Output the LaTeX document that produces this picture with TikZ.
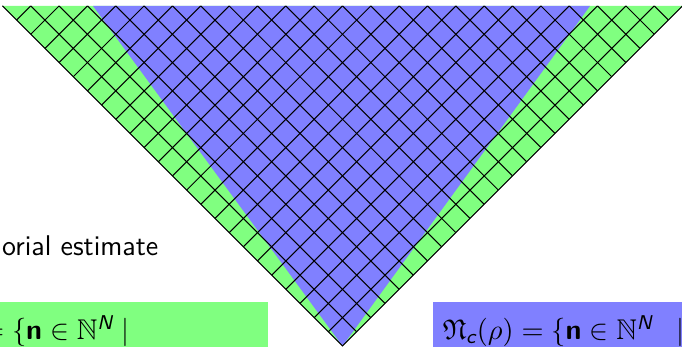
\documentclass[tikz,border=0pt]{standalone}
\usepackage{fontspec}
\usepackage{amsmath,amssymb}
\begin{document}
\begin{tikzpicture}[x=0.386pt,y=0.386pt,font=\fontsize{11}{13}\selectfont\sffamily]
\useasboundingbox (0,0) rectangle (682,347);
\clip (0,0) rectangle (682,347);
\tikzset{gridline/.style={black,line width=0.4pt},
  boxtext/.style={inner sep=0pt}}
\def\cell{20.04}
\coordinate (apex) at (342.5,1);
\coordinate (tl) at (2.5,341);
\coordinate (tr) at (682.5,341);
\coordinate (bl) at (93,341);
\coordinate (br) at (590,341);
\fill[green!50] (apex) -- (tl) -- (tr) -- cycle;
\fill[blue!50] (apex) -- (bl) -- (br) -- cycle;
\begin{scope}
\clip (apex) -- (tl) -- (tr) -- cycle;
\begin{scope}[shift={(apex)},rotate=45]
\foreach \k in {0,...,25}{
  \draw[gridline] ({\k*\cell},0) -- ++(0,520);
  \draw[gridline] (0,{\k*\cell}) -- ++(520,0);
}
\end{scope}
\end{scope}
\draw[gridline] (tl) -- (apex) -- (tr);
% boxes
\fill[green!50] (0,0) rectangle (268,45);
\fill[blue!50] (433,0) rectangle (682,45);
\node[boxtext,anchor=base west] (title) at (1.7,91.3) {orial estimate};
\node[boxtext,anchor=base east] (gtext) at (130,7.5) {$=\{\textbf{n}\in\mathbb{N}^{\textit{N}}\mid$};
\node[boxtext,anchor=base west] (btext) at (442,7.5) {$\mathfrak{N}_{\textit{c}}(\rho)=\{\textbf{n}\in\mathbb{N}^{\textit{N}}\mkern10mu\mid$};
\end{tikzpicture}
\end{document}
